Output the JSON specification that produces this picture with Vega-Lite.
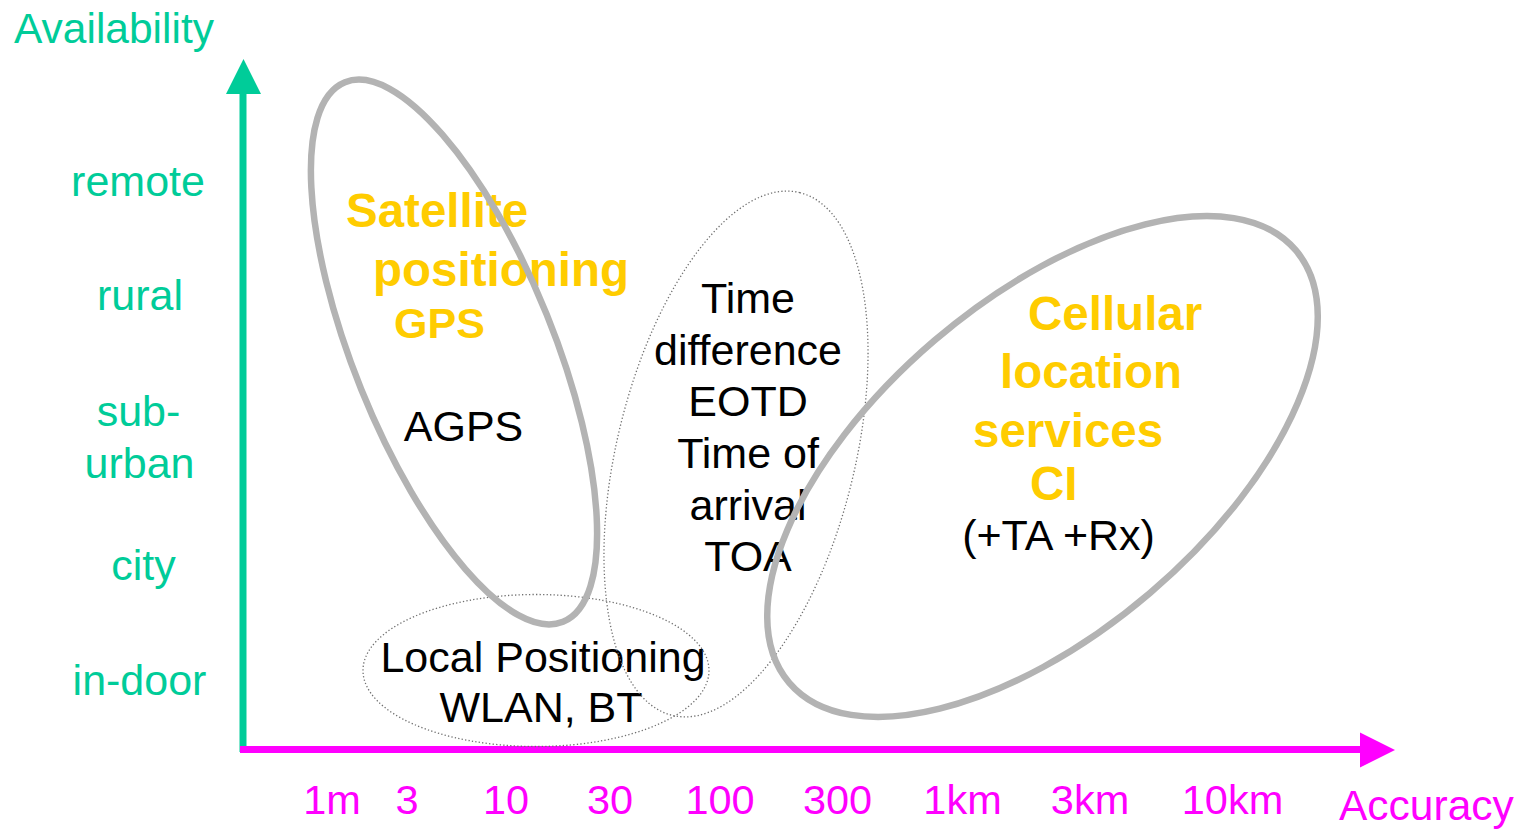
{
  "$schema": "https://vega.github.io/schema/vega-lite/v6.json",
  "width": 1528,
  "height": 829,
  "autosize": {"type": "fit", "contains": "padding"},
  "padding": 0,
  "background": "white",
  "config": {"view": {"stroke": null}},
  "datasets": {
    "yLabels": [
      {"label": "remote", "px": 138, "py": 196},
      {"label": "rural", "px": 140, "py": 310},
      {"label": "sub-", "px": 138.5, "py": 426},
      {"label": "urban", "px": 139.5, "py": 478},
      {"label": "city", "px": 143.5, "py": 580},
      {"label": "in-door", "px": 139.5, "py": 695}
    ],
    "xLabels": [
      {"label": "1m", "px": 332, "py": 814},
      {"label": "3", "px": 407, "py": 814},
      {"label": "10", "px": 506, "py": 814},
      {"label": "30", "px": 610, "py": 814},
      {"label": "100", "px": 720, "py": 814},
      {"label": "300", "px": 837.5, "py": 814},
      {"label": "1km", "px": 962.5, "py": 814},
      {"label": "3km", "px": 1090, "py": 814},
      {"label": "10km", "px": 1232.5, "py": 814}
    ],
    "yTitle": [{"label": "Availability", "px": 14, "py": 43}],
    "xTitle": [{"label": "Accuracy", "px": 1339, "py": 820}],
    "yellowText": [
      {"label": "Satellite", "px": 346, "py": 227},
      {"label": "positioning", "px": 373, "py": 286},
      {"label": "Cellular", "px": 1028, "py": 330},
      {"label": "location", "px": 1000, "py": 388},
      {"label": "services", "px": 973, "py": 447},
      {"label": "CI", "px": 1030, "py": 500}
    ],
    "yellowSmall": [
      {"label": "GPS", "px": 394, "py": 338}
    ],
    "blackText": [
      {"label": "AGPS", "px": 463.5, "py": 441},
      {"label": "Time", "px": 748, "py": 313},
      {"label": "difference", "px": 748, "py": 365},
      {"label": "EOTD", "px": 748, "py": 416},
      {"label": "Time of", "px": 748, "py": 468},
      {"label": "arrival", "px": 748, "py": 520},
      {"label": "TOA", "px": 748, "py": 571},
      {"label": "Local Positioning", "px": 543, "py": 672},
      {"label": "WLAN, BT", "px": 541, "py": 722},
      {"label": "(+TA +Rx)", "px": 1058.5, "py": 550}
    ],
    "availabilityAxis": [{"px": 243, "py": 92, "py2": 752}],
    "accuracyAxis": [{"px": 240, "px2": 1362, "py": 749.5}],
    "availabilityHead": [{"px": 243.5, "py": 76.5}],
    "accuracyHead": [{"px": 1377.5, "py": 750}],
    "satellite": [{"name": "Satellite positioning GPS", "px": 454, "py": 352, "semiMajor": 291, "tilt": 68}],
    "timeDiff": [{"name": "Time difference / Time of arrival", "px": 736, "py": 454, "semiMajor": 269, "tilt": -76.3}],
    "local": [{"name": "Local Positioning", "px": 536, "py": 670.5, "semiMajor": 173, "tilt": 0}],
    "cellular": [{"name": "Cellular location services", "px": 1042.5, "py": 466.5, "semiMajor": 333, "tilt": -40.5}]
  },
  "encoding": {
    "x": {"field": "px", "type": "quantitative", "scale": {"domain": [0, 1528], "nice": false, "zero": false}, "axis": null},
    "y": {"field": "py", "type": "quantitative", "scale": {"domain": [0, 829], "nice": false, "zero": false, "reverse": true}, "axis": null}
  },
  "layer": [
    {
      "data": {"name": "yTitle"},
      "mark": {"type": "text", "align": "left", "baseline": "alphabetic", "font": "Liberation Sans", "fontSize": 42.5, "fill": "#00CC99"},
      "encoding": {"text": {"field": "label"}}
    },
    {
      "data": {"name": "xTitle"},
      "mark": {"type": "text", "align": "left", "baseline": "alphabetic", "font": "Liberation Sans", "fontSize": 42.5, "fill": "#FF00FF"},
      "encoding": {"text": {"field": "label"}}
    },
    {
      "data": {"name": "yLabels"},
      "mark": {"type": "text", "align": "center", "baseline": "alphabetic", "font": "Liberation Sans", "fontSize": 43, "fill": "#00CC99"},
      "encoding": {"text": {"field": "label"}}
    },
    {
      "data": {"name": "xLabels"},
      "mark": {"type": "text", "align": "center", "baseline": "alphabetic", "font": "Liberation Sans", "fontSize": 41.5, "fill": "#FF00FF"},
      "encoding": {"text": {"field": "label"}}
    },
    {
      "data": {"name": "yellowText"},
      "mark": {"type": "text", "align": "left", "baseline": "alphabetic", "font": "Liberation Sans", "fontWeight": "bold", "fontSize": 47.5, "fill": "#FFCC00"},
      "encoding": {"text": {"field": "label"}}
    },
    {
      "data": {"name": "yellowSmall"},
      "mark": {"type": "text", "align": "left", "baseline": "alphabetic", "font": "Liberation Sans", "fontWeight": "bold", "fontSize": 43, "fill": "#FFCC00"},
      "encoding": {"text": {"field": "label"}}
    },
    {
      "data": {"name": "blackText"},
      "mark": {"type": "text", "align": "center", "baseline": "alphabetic", "font": "Liberation Sans", "fontSize": 43, "fill": "#000000"},
      "encoding": {"text": {"field": "label"}}
    },
    {
      "data": {"name": "availabilityAxis"},
      "mark": {"type": "rule", "color": "#00CC99", "strokeWidth": 7},
      "encoding": {"y2": {"field": "py2"}}
    },
    {
      "data": {"name": "accuracyAxis"},
      "mark": {"type": "rule", "color": "#FF00FF", "strokeWidth": 7},
      "encoding": {"x2": {"field": "px2"}}
    },
    {
      "data": {"name": "availabilityHead"},
      "mark": {"type": "point", "shape": "M0,-1L1,1L-1,1Z", "size": 1225, "filled": true, "fill": "#00CC99", "strokeWidth": 0, "opacity": 1}
    },
    {
      "data": {"name": "accuracyHead"},
      "mark": {"type": "point", "shape": "M1,0L-1,1L-1,-1Z", "size": 1225, "filled": true, "fill": "#FF00FF", "strokeWidth": 0, "opacity": 1}
    },
    {
      "data": {"name": "local"},
      "mark": {"type": "point", "filled": false, "opacity": 1, "stroke": "#707070", "strokeWidth": 1.3, "strokeDash": [1.3, 2.2],
        "shape": "M1,0C1,0.2426,0.5523,0.4393,0,0.4393C-0.5523,0.4393,-1,0.2426,-1,0C-1,-0.2426,-0.5523,-0.4393,0,-0.4393C0.5523,-0.4393,1,-0.2426,1,0Z"},
      "encoding": {
        "size": {"field": "semiMajor", "type": "quantitative", "scale": {"type": "pow", "exponent": 2, "domain": [0, 100], "range": [0, 40000]}, "legend": null},
        "angle": {"field": "tilt", "type": "quantitative", "scale": null}
      }
    },
    {
      "data": {"name": "timeDiff"},
      "mark": {"type": "point", "filled": false, "opacity": 1, "stroke": "#707070", "strokeWidth": 1.3, "strokeDash": [1.3, 2.2],
        "shape": "M1,0C1,0.2443,0.5523,0.4424,0,0.4424C-0.5523,0.4424,-1,0.2443,-1,0C-1,-0.2443,-0.5523,-0.4424,0,-0.4424C0.5523,-0.4424,1,-0.2443,1,0Z"},
      "encoding": {
        "size": {"field": "semiMajor", "type": "quantitative", "scale": {"type": "pow", "exponent": 2, "domain": [0, 100], "range": [0, 40000]}, "legend": null},
        "angle": {"field": "tilt", "type": "quantitative", "scale": null}
      }
    },
    {
      "data": {"name": "satellite"},
      "mark": {"type": "point", "filled": false, "opacity": 1, "stroke": "#B3B3B3", "strokeWidth": 6.5,
        "shape": "M1,0C1,0.1898,0.5523,0.3436,0,0.3436C-0.5523,0.3436,-1,0.1898,-1,0C-1,-0.1898,-0.5523,-0.3436,0,-0.3436C0.5523,-0.3436,1,-0.1898,1,0Z"},
      "encoding": {
        "size": {"field": "semiMajor", "type": "quantitative", "scale": {"type": "pow", "exponent": 2, "domain": [0, 100], "range": [0, 40000]}, "legend": null},
        "angle": {"field": "tilt", "type": "quantitative", "scale": null}
      }
    },
    {
      "data": {"name": "cellular"},
      "mark": {"type": "point", "filled": false, "opacity": 1, "stroke": "#B3B3B3", "strokeWidth": 6.5,
        "shape": "M1,0C1,0.2753,0.5523,0.4985,0,0.4985C-0.5523,0.4985,-1,0.2753,-1,0C-1,-0.2753,-0.5523,-0.4985,0,-0.4985C0.5523,-0.4985,1,-0.2753,1,0Z"},
      "encoding": {
        "size": {"field": "semiMajor", "type": "quantitative", "scale": {"type": "pow", "exponent": 2, "domain": [0, 100], "range": [0, 40000]}, "legend": null},
        "angle": {"field": "tilt", "type": "quantitative", "scale": null}
      }
    }
  ]
}
